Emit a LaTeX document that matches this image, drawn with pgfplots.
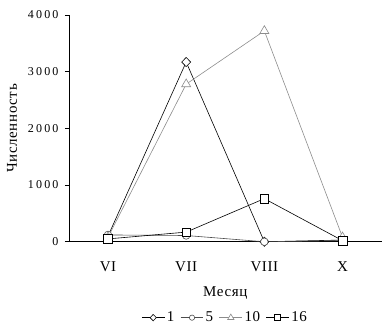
\documentclass[border=0pt]{standalone}
\usepackage{pgfplots}
\pgfplotsset{compat=1.18}
\usepackage{fontspec}
\setmainfont{Liberation Serif}
\newfontfamily\tickfont[LetterSpace=18]{Liberation Serif}
\newfontfamily\labfont[LetterSpace=4]{Liberation Serif}
\begin{document}
\begin{tikzpicture}
\begin{axis}[
  name=ax,
  scale only axis,
  width=313pt, height=227pt,
  xmin=-0.5, xmax=3.5,
  ymin=0, ymax=4000,
  axis x line=bottom, axis y line=left,
  axis line style={-, black, line width=0.8pt},
  xtick={0,1,2,3},
  xticklabels={VI,VII,VIII,X},
  major x tick style={draw=none},
  extra x ticks={-0.5,0.5,1.5,2.5},
  extra x tick labels={},
  extra x tick style={major tick length=4pt, tick style={black, line width=0.6pt}},
  ytick={0,1000,2000,3000,4000},
  tick align=outside,
  major tick length=4pt,
  tick style={black, line width=0.6pt},
  /pgf/number format/assume math mode=true,
  /pgf/number format/1000 sep={},
  yticklabel style={font=\tickfont\fontsize{12}{13}\selectfont, anchor=east, xshift=-3pt},
  xticklabel style={font=\labfont\fontsize{15}{16}\selectfont, anchor=center, yshift=-21pt},
  xlabel={Месяц},
  ylabel={Численность},
  xlabel style={font=\labfont\fontsize{15}{16}\selectfont, at={(rel axis cs:0.5,0)}, anchor=center, yshift=-51pt},
  ylabel style={font=\labfont\fontsize{15}{16}\selectfont, at={(rel axis cs:0,0.5)}, anchor=center, yshift=57pt},
  legend style={draw=none, at={(0.5,0)}, anchor=center, yshift=-76pt, legend columns=4,
    font=\labfont\fontsize{15}{16}\selectfont, /tikz/every even column/.append style={column sep=4pt}},
  legend image code/.code={\draw[mark repeat=2,mark phase=2,/tikz/every mark/.append style={scale=0.7}] plot coordinates {(0cm,0cm) (0.4cm,0cm) (0.8cm,0cm)};},
  every axis plot/.append style={line width=0.6pt},
  clip=false,
]
\addplot[black, mark=diamond*, mark size=4.6pt, mark options={fill=white, xscale=1.3}] coordinates {(0,100) (1,3170) (2,0) (3,30)};
\addlegendentry{1}
\addplot[black!70, mark=*, mark size=3.8pt, mark options={fill=white}] coordinates {(0,120) (1,110) (2,0) (3,20)};
\addlegendentry{5}
\addplot[black!45, mark=triangle*, mark size=5.2pt, mark options={fill=white}] coordinates {(0,80) (1,2780) (2,3720) (3,80)};
\addlegendentry{10}
\addplot[black, mark=square*, mark size=4.3pt, mark options={fill=white}] coordinates {(0,50) (1,170) (2,760) (3,20)};
\addlegendentry{16}
\end{axis}
\path (ax.north west) ++(0,15pt);
\path (ax.south west) ++(-69pt,-83pt);
\end{tikzpicture}
\end{document}
